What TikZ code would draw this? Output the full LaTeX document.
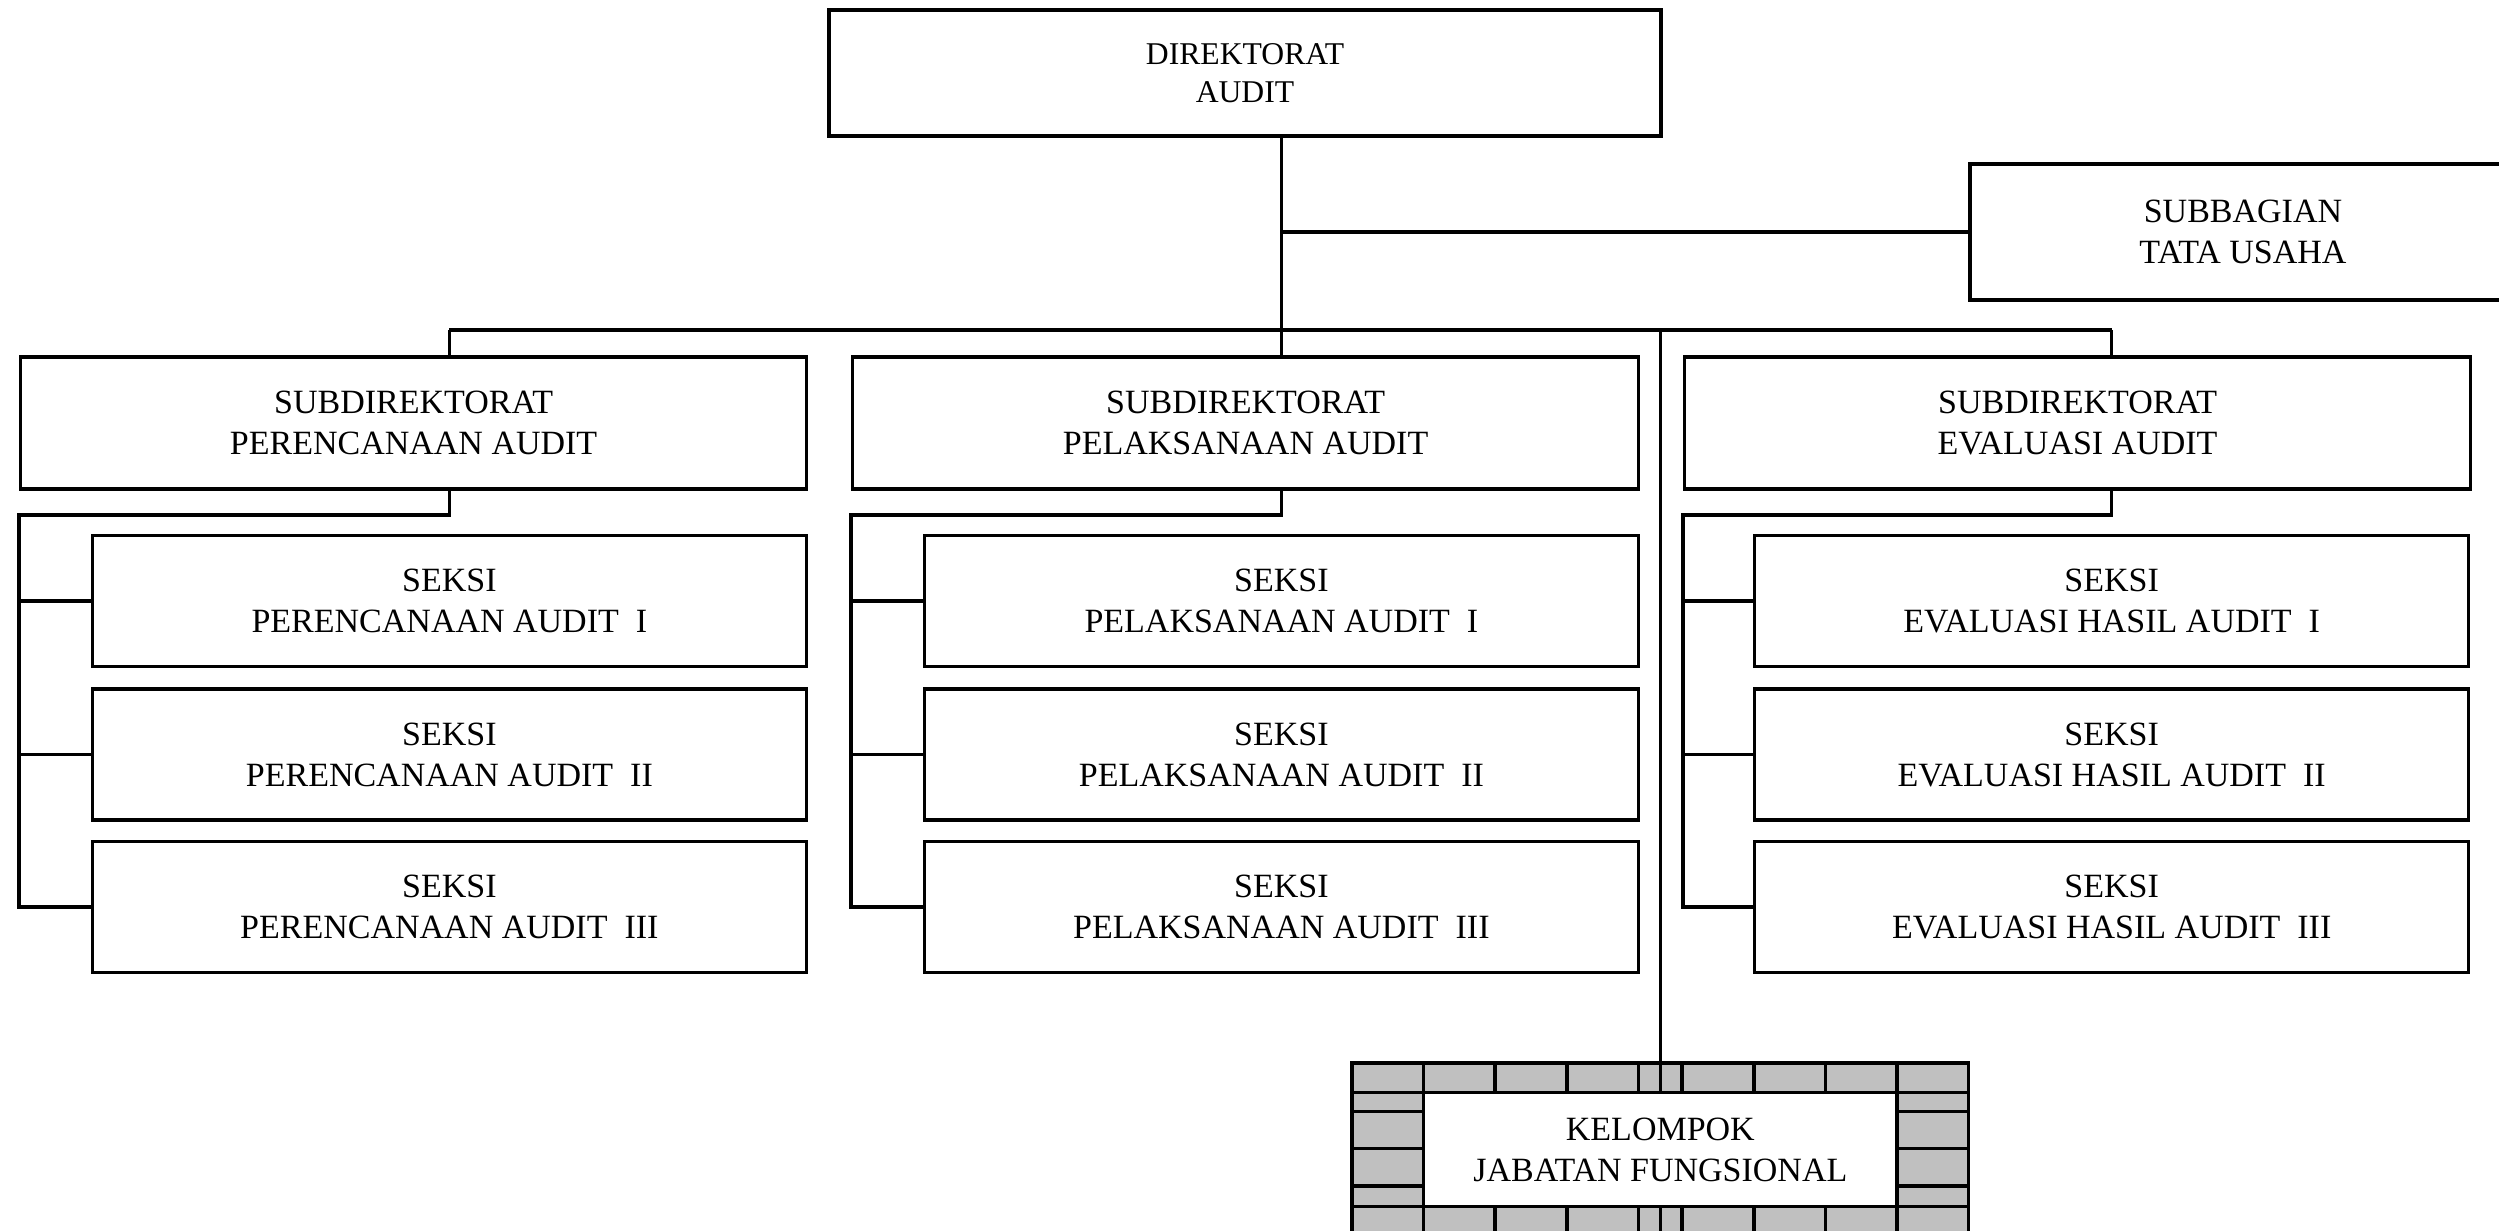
\documentclass[tikz,border=0pt]{standalone}
\usepackage{fontspec}
\setmainfont{Liberation Serif}
\definecolor{brick}{RGB}{192,192,192}
\begin{document}
\begin{tikzpicture}[x=0.3pt,y=-0.3pt,line width=1.05pt,
  box/.style={draw=black,line width=1.05pt,fill=white,align=center,inner sep=0pt,
    font=\fontsize{10.2}{12.3}\selectfont},
  bx/.style 2 args={box,minimum width=#1*0.3pt,minimum height=#2*0.3pt},
  subdir/.style={bx={786}{132}},
  seksi/.style={bx={714}{131}}]
\useasboundingbox (0,0) rectangle (2499,1230);
\fill[white] (0,0) rectangle (2499,1230);

% top level
\node[bx={832}{126},font=\fontsize{9.5}{11.6}\selectfont] (dir) at (1245,73) {DIREKTORAT\\AUDIT};
\node[bx={546}{136}] (tu) at (2243,232) {SUBBAGIAN\\TATA USAHA};

% subdirectorates
\node[subdir] (sA) at (413.6,423) {SUBDIREKTORAT\\PERENCANAAN AUDIT};
\node[subdir] (sB) at (1245.6,423) {SUBDIREKTORAT\\PELAKSANAAN AUDIT};
\node[subdir] (sC) at (2077.6,423) {SUBDIREKTORAT\\EVALUASI AUDIT};

% sections
\node[seksi] (a1) at (449.4,601) {SEKSI\\PERENCANAAN AUDIT~~I};
\node[seksi] (a2) at (449.4,754.5) {SEKSI\\PERENCANAAN AUDIT~~II};
\node[seksi] (a3) at (449.4,907) {SEKSI\\PERENCANAAN AUDIT~~III};
\node[seksi] (b1) at (1281.4,601) {SEKSI\\PELAKSANAAN AUDIT~~I};
\node[seksi] (b2) at (1281.4,754.5) {SEKSI\\PELAKSANAAN AUDIT~~II};
\node[seksi] (b3) at (1281.4,907) {SEKSI\\PELAKSANAAN AUDIT~~III};
\node[seksi] (c1) at (2111.7,601) {SEKSI\\EVALUASI HASIL AUDIT~~I};
\node[seksi] (c2) at (2111.7,754.5) {SEKSI\\EVALUASI HASIL AUDIT~~II};
\node[seksi] (c3) at (2111.7,907) {SEKSI\\EVALUASI HASIL AUDIT~~III};

% brick frame of the functional group
\fill[brick] (1352,1063) rectangle (1968.6,1260);
\draw (1352,1063) rectangle (1968.6,1260);
\draw (1352,1092.7) -- (1968.6,1092.7);
\draw (1352,1206.7) -- (1968.6,1206.7);
\foreach \bx in {1423.7,1495.2,1566.8,1638.4,1682.2,1753.8,1825.4,1897}{
  \draw (\bx,1063) -- (\bx,1092.7);
  \draw (\bx,1206.7) -- (\bx,1260);
}
\draw (1660.35,1206.7) -- (1660.35,1260);
\foreach \by in {1111.7,1148.3,1186}{
  \draw (1352,\by) -- (1425.5,\by);
  \draw (1897,\by) -- (1968.6,\by);
}
\node[bx={473.3}{114}] (kjf) at (1660.35,1149.7) {KELOMPOK\\JABATAN FUNGSIONAL};

% connectors
\coordinate (busL) at (449.4,330);
\coordinate (busM) at (1281.4,330);
\coordinate (busJ) at (1660.35,330);
\coordinate (busR) at (2111.7,330);
\draw (busL) -- (busR);
\draw (dir.south -| busM) -- (busM |- sB.north);
\draw (busM |- tu.west) -- (tu.west);
\draw (busL) -- (busL |- sA.north);
\draw (busR) -- (busR |- sC.north);
\draw (busJ) -- (kjf.north);

% brackets
\foreach \s/\p in {sA/a,sB/b,sC/c}{
  \draw (\p1.north |- \s.south) -- ++(0,24) -| (\s.west |- \p3.west) -- (\p3.west);
  \draw (\s.west |- \p1.west) -- (\p1.west);
  \draw (\s.west |- \p2.west) -- (\p2.west);
}
\end{tikzpicture}
\end{document}
